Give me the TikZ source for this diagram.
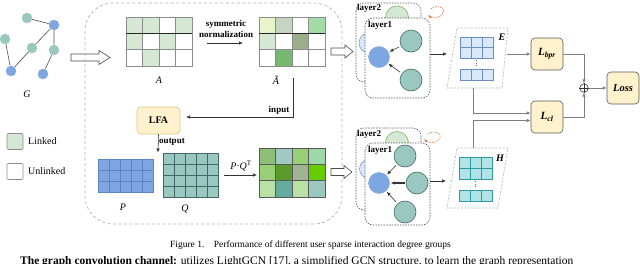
\documentclass[tikz,border=0pt]{standalone}
\usepackage{fontspec}
\setmainfont{Liberation Serif}
\usetikzlibrary{arrows.meta}
\definecolor{tealn}{HTML}{9AC7BF}
\definecolor{tealb}{HTML}{3F6B64}
\definecolor{bluen}{HTML}{7EA6E0}
\definecolor{blueb}{HTML}{5B84C4}
\definecolor{lg}{HTML}{D5E8D4}
\definecolor{lgb}{HTML}{82B366}
\definecolor{lblue}{HTML}{DAE8FC}
\definecolor{lblueb}{HTML}{6C8EBF}
\definecolor{cyanf}{HTML}{B0E3E6}
\definecolor{cyanb}{HTML}{2E9AA0}
\definecolor{yel}{HTML}{FFF2CC}
\definecolor{yelb}{HTML}{D6B656}
\definecolor{dashg}{HTML}{B3B3B3}
\definecolor{lineg}{HTML}{7F7F7F}
\definecolor{orng}{HTML}{E0743A}
\definecolor{aa}{HTML}{E8F5CC}
\definecolor{ab}{HTML}{C5D5C2}
\definecolor{ac}{HTML}{A3DCA7}
\definecolor{ad}{HTML}{9AAE8C}
\definecolor{ae}{HTML}{74B871}
\definecolor{ra}{HTML}{8DBF76}
\definecolor{rb}{HTML}{A0C9C3}
\definecolor{rc}{HTML}{97D077}
\definecolor{rd}{HTML}{9ED8A8}
\definecolor{re}{HTML}{5A9A2A}
\definecolor{rf}{HTML}{A0B494}
\definecolor{rg}{HTML}{66CC00}
\definecolor{rh}{HTML}{B9E0A5}
\definecolor{ri}{HTML}{67AB9F}
\newcommand\drawgrid[7]{%
  \foreach \cc [count=\ii from 0] in {#7} {%
    \pgfmathtruncatemacro\gcol{mod(\ii,#5)}%
    \pgfmathtruncatemacro\grow{int(\ii/#5)}%
    \path[draw=#6, fill=\cc, line width=0.7pt] ({#1+\gcol*#3},{#2+\grow*#4}) rectangle ++(#3,#4);
  }%
}
\begin{document}
\begin{tikzpicture}[x=1pt,y=-1pt,
  gn/.style={circle, inner sep=0pt, minimum size=10.5pt},
  ged/.style={draw=black!70, line width=0.6pt},
  lbl/.style={font=\fontsize{9}{10}\selectfont\bfseries, inner sep=0pt},
  mlab/.style={font=\fontsize{10}{11}\selectfont\itshape, inner sep=0pt},
  arr/.style={-{Latex[length=4pt,width=3.5pt]}, line width=0.6pt, black!80},
  garr/.style={-{Latex[length=4pt,width=3.5pt]}, line width=0.8pt, draw=lineg},
  ybox/.style={draw=black!65, fill=yel, rounded corners=4pt, line width=0.6pt, minimum width=32pt, minimum height=32pt, inner sep=0pt},
  lbox/.style={draw=black!65, dash pattern=on 1.5pt off 1.2pt, line width=0.6pt, rounded corners=8pt},
  tn/.style={circle, draw=tealb, fill=tealn, line width=0.6pt, inner sep=0pt, minimum size=22pt},
  bn/.style={circle, draw=bluen, fill=bluen, inner sep=0pt, minimum size=21pt},
  blk/.style={draw=black!70, fill=white, line width=0.6pt},
  pdash/.style={draw=dashg, dash pattern=on 2pt off 1.5pt, line width=0.6pt}
]
\useasboundingbox (0,0) rectangle (640,263);

% ---------- graph G ----------
\node[gn, fill=tealn] (g1) at (27,18) {};
\node[gn, fill=bluen] (g2) at (54,25) {};
\node[gn, fill=tealn] (g3) at (5,39) {};
\node[gn, fill=tealn] (g4) at (32,48) {};
\node[gn, fill=tealn] (g5) at (54,50) {};
\node[gn, fill=bluen] (g6) at (11,71) {};
\node[gn, fill=bluen] (g7) at (43,74) {};
\path[ged] (g1)--(g2) (g2)--(g4) (g2)--(g5) (g3)--(g6) (g4)--(g6) (g5)--(g7);
\node[mlab] (gl) at (27,94) {G};

% hollow arrow G -> box
\draw[blk] (71,54)--(99,54)--(99,50.5)--(110,57.5)--(99,64.5)--(99,61)--(71,61)--cycle;

% ---------- big dashed box ----------
\draw[draw=dashg, dash pattern=on 3pt off 2.5pt, line width=0.7pt, rounded corners=28pt] (85,3) rectangle (342,224);

% ---------- matrix A ----------
\drawgrid{126}{17}{16.5}{16.33}{4}{black!45}{lg,lg,white,lg,lg,white,lg,white,white,lg,white,white}
\draw[black!85, line width=0.8pt] (126,33.33)--(192,33.33);
\node[mlab] (Al) at (159,80) {A};

\node[lbl, align=center] (sn) at (226,29) {symmetric\\[1pt]normalization};
\coordinate (sna) at (207,43); \coordinate (snb) at (243,43);
\draw[arr] (sna)--(snb);

% ---------- matrix A tilde ----------
\drawgrid{259}{17}{16.5}{16.33}{4}{black!45}{aa,ab,white,ac,lg,white,ad,white,white,ae,white,white}
\draw[black!85, line width=0.8pt] (259,33.33)--(325,33.33);
\node[mlab] (Atl) at (276,80) {Ã};

% ---------- LFA ----------
\node[draw=yelb!80, fill=yel, rounded corners=4pt, line width=0.6pt, minimum width=43pt, minimum height=27pt, inner sep=0pt, font=\fontsize{10}{11}\selectfont\bfseries] (lfa) at (158.5,120.5) {LFA};
\coordinate (in0) at (293,78);
\coordinate (in1) at (186,117);
\draw[arr] (in0) |- (in1);
\node[lbl] (inl) at (279,110) {input};
\coordinate (out1) at (158,152.5);
\draw[arr] (lfa.south) -- (out1);
\node[lbl] (outl) at (172,142) {output};

% ---------- legend ----------
\node[draw=black!45, fill=lg, rounded corners=1pt, minimum size=16pt, inner sep=0pt, line width=0.6pt] (lk) at (15,141.5) {};
\node[anchor=west, font=\fontsize{10}{11}\selectfont, inner sep=0pt] (lkt) at (28,141) {Linked};
\node[draw=black!45, fill=white, rounded corners=1pt, minimum size=16pt, inner sep=0pt, line width=0.6pt] (ulk) at (15,171.5) {};
\node[anchor=west, font=\fontsize{10}{11}\selectfont, inner sep=0pt] (ulkt) at (28,171) {Unlinked};

% ---------- P and Q ----------
\drawgrid{98}{159}{11}{11}{5}{blueb}{bluen,bluen,bluen,bluen,bluen,bluen,bluen,bluen,bluen,bluen,bluen,bluen,bluen,bluen,bluen}
\node[mlab] (Pl) at (123,207) {P};
\drawgrid{163}{153}{11}{11}{5}{tealb}{tealn,tealn,tealn,tealn,tealn,tealn,tealn,tealn,tealn,tealn,tealn,tealn,tealn,tealn,tealn,tealn,tealn,tealn,tealn,tealn}
\node[mlab] (Ql) at (185,209) {Q};
\node[font=\fontsize{10}{11}\selectfont, inner sep=0pt] (pq) at (241,166) {\textit{P}·\textit{Q}\textsuperscript{T}};
\coordinate (pqa) at (224,175); \coordinate (pqb) at (257,175);
\draw[arr] (pqa)--(pqb);

% ---------- result matrix ----------
\drawgrid{259}{148}{16.5}{16.33}{4}{black!65}{ra,rb,rc,rd,rc,re,rf,rg,rh,ri,rh,tealn}

% hollow arrows to GCN
\draw[blk] (331,48)--(345,48)--(345,45)--(353,51.5)--(345,58)--(345,55)--(331,55)--cycle;
\draw[blk] (331,168.5)--(344,168.5)--(344,165.5)--(352,172)--(344,178.5)--(344,175.5)--(331,175.5)--cycle;

% ---------- top GCN block ----------
\draw[lbox] (356,3) rectangle (421,82);
\node[lbl, anchor=west] (l2a) at (357,8.5) {layer2};
\draw[draw=lgb, fill=lg, line width=0.6pt] (397,17.5) circle (11.5);
\draw[draw=lblueb, fill=lblue, line width=0.5pt] (369,43) circle (10);
\draw[lbox, fill=white] (365,18) rectangle (430,98);
\node[lbl, anchor=west] (l1a) at (368,25.5) {layer1};
\node[bn] (b1) at (379,57) {};
\node[tn] (t1) at (411,41) {};
\node[tn] (t2) at (411,80) {};
\draw[arr, shorten >=1pt, shorten <=2pt] (t1) -- (b1);
\draw[arr, shorten >=1pt, shorten <=2pt] (t2) -- (b1);
\draw[orng, dash pattern=on 1.5pt off 1pt, line width=0.6pt, -{Latex[length=3.5pt,width=3pt]}] (431,9) .. controls (436,4) and (446,7) .. (443,13) .. controls (441,18) and (433,19) .. (428,15);
\coordinate (ea) at (430,54); \coordinate (eb) at (447,54);
\draw[arr] (ea)--(eb);

% ---------- bottom GCN block ----------
\draw[lbox] (356,128) rectangle (421,210);
\node[lbl, anchor=west] (l2b) at (357,134.5) {layer2};
\draw[draw=lgb, fill=lg, line width=0.6pt] (397,143) circle (11.5);
\draw[draw=lblueb, fill=lblue, line width=0.5pt] (369,169) circle (9.5);
\draw[lbox, fill=white] (365,143) rectangle (430,225);
\node[lbl, anchor=west] (l1b) at (368,150.5) {layer1};
\node[bn] (b2) at (379,183) {};
\node[tn] (t3) at (405,156) {};
\node[tn] (t4) at (417,183) {};
\node[tn] (t5) at (405,212) {};
\draw[arr, shorten >=1pt, shorten <=2pt] (t3) -- (b2);
\draw[arr, shorten >=1pt, shorten <=1pt, line width=1.3pt] (t4) -- (b2);
\draw[arr, shorten >=1pt, shorten <=2pt] (t5) -- (b2);
\draw[orng, dash pattern=on 1.5pt off 1pt, line width=0.6pt, -{Latex[length=3.5pt,width=3pt]}] (428,134) .. controls (433,130) and (442,132) .. (440,138) .. controls (438,143) and (429,144) .. (424,139);
\coordinate (ha) at (430,181); \coordinate (hb) at (446,181);
\draw[arr] (ha)--(hb);

% ---------- E panel ----------
\draw[pdash] (457,28)--(508,28)--(502,88)--(447,88)--cycle;
\drawgrid{460}{37}{11}{10.5}{3}{lblueb}{lblue,lblue,lblue,lblue,lblue,lblue}
\draw[black!60, dotted, line width=0.7pt] (476.5,60)--(476.5,67);
\drawgrid{460}{69}{11}{11}{3}{lblueb}{lblue,lblue,lblue}
\node[font=\fontsize{10}{11}\selectfont\bfseries\itshape, inner sep=0pt] (El) at (502,37) {E};
\coordinate (Eo) at (507,54);
\coordinate (Eb) at (473,88);

% ---------- H panel ----------
\draw[pdash] (457,148)--(508,148)--(498,208)--(447,208)--cycle;
\drawgrid{459}{157}{11}{11}{3}{cyanb}{cyanf,cyanf,cyanf,cyanf,cyanf,cyanf}
\draw[black!60, dotted, line width=0.7pt] (475.5,181)--(475.5,188);
\drawgrid{459}{190}{11}{11}{3}{cyanb}{cyanf,cyanf,cyanf}
\node[font=\fontsize{10}{11}\selectfont\bfseries\itshape, inner sep=0pt] (Hl) at (500,158) {H};
\coordinate (Ht) at (473,148);

% ---------- losses ----------
\node[ybox, font=\fontsize{11}{12}\selectfont\bfseries\itshape] (lbpr) at (547,54) {L\textsubscript{bpr}};
\node[ybox, font=\fontsize{11}{12}\selectfont\bfseries\itshape] (lcl) at (547,117) {L\textsubscript{cl}};
\node[ybox, font=\fontsize{10.5}{12}\selectfont\bfseries\itshape] (loss) at (623,88) {Loss};
\node[circle, draw=black!80, line width=0.6pt, inner sep=0pt, minimum size=8.5pt] (op) at (584,88) {};
\draw[black!80, line width=0.6pt] (op.north)--(op.south) (op.west)--(op.east);

\draw[garr] (Eo) -- (lbpr.west);
\draw[garr] (Eb) |- ([yshift=4pt]lcl.west);
\draw[garr] (Ht) |- ([yshift=-3.5pt]lcl.west);
\draw[garr] (lbpr.east) -| (op.north);
\draw[garr] (lcl.east) -| (op.south);
\draw[garr] (op.east) -- (loss.west);

% ---------- caption ----------
\node[font=\fontsize{9.5}{11}\selectfont, inner sep=0pt] (cap) at (310.5,245) {Figure 1.\quad Performance of different user sparse interaction degree groups};
\begin{scope}
\clip (0,0) rectangle (640,263);
\node[anchor=base west, font=\fontsize{11.5}{13}\selectfont, inner sep=0pt] (body) at (20,264) {\textbf{The graph convolution channel:} utilizes LightGCN [17], a simplified GCN structure, to learn the graph representation};
\end{scope}
\end{tikzpicture}
\end{document}
